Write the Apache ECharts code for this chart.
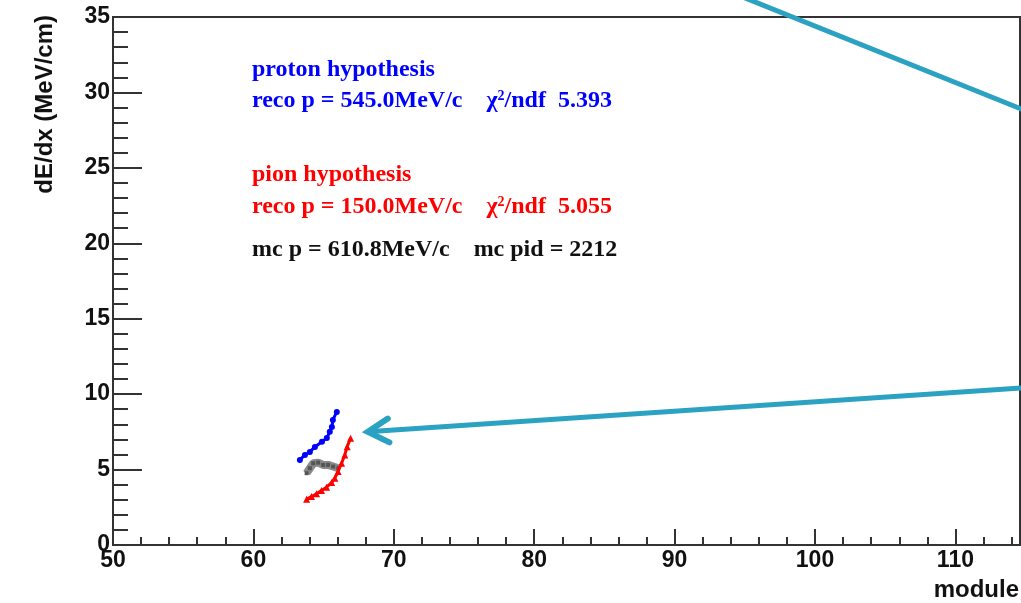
<!DOCTYPE html>
<html>
<head>
<meta charset="utf-8">
<script src="https://cdn.jsdelivr.net/npm/echarts@6/dist/echarts.min.js"></script>
<style>
  html, body { margin: 0; padding: 0; background: #fff; }
  #chart { width: 1021px; height: 603px; }
</style>
</head>
<body>
<div id="chart"></div>
<script>
// proton hypothesis (blue)
var protonX = [63.31, 63.67, 64.02, 64.38, 64.88, 65.23, 65.44, 65.59, 65.66, 65.94];
var protonY = [5.64, 5.97, 6.17, 6.50, 6.84, 7.10, 7.50, 7.83, 8.29, 8.82];
// pion hypothesis (red)
var pionX = [63.79, 64.14, 64.50, 64.85, 65.21, 65.57, 65.80, 66.03, 66.28, 66.51, 66.68, 66.92];
var pionY = [3.04, 3.21, 3.39, 3.61, 3.83, 4.14, 4.43, 4.87, 5.42, 5.97, 6.52, 7.08];
// measured (grey)
var measX = [63.79, 64.02, 64.26, 64.61, 64.97, 65.32, 65.68, 66.04];
var measY = [4.76, 5.09, 5.42, 5.46, 5.31, 5.31, 5.20, 5.09];

var xTicks = [50, 60, 70, 80, 90, 100, 110];
var yTicks = [0, 5, 10, 15, 20, 25, 30, 35];

// annotation arrows, in data units [module, dE/dx]
var arrowA = [[93.9, 36.68], [115.5, 28.6]];
var arrowB = [[115.5, 10.46], [68.15, 7.5]];

function pairs(xs, ys) {
	var out = [];
	for (var i = 0; i < xs.length; i++) out.push([xs[i], ys[i]]);
	return out;
}

var chart = echarts.init(document.getElementById('chart'));
var labelFont = {
	fontFamily: 'Liberation Sans',
	fontWeight: 'bold',
	fontSize: 23,
	color: '#111'
};
var serifBold = 'Liberation Serif';

var option = {
	animation: false,
	grid: {
		left: 113, top: 17, right: 1, bottom: 58,
		show: true,
		borderColor: '#333',
		borderWidth: 2
	},
	xAxis: {
		type: 'value',
		min: 50,
		max: 114.6,
		interval: 10,
		axisLine: { lineStyle: { color: '#333', width: 2 } },
		axisTick: { inside: true, length: 16, lineStyle: { color: '#333', width: 2 } },
		minorTick: { show: true, splitNumber: 5, length: 8, lineStyle: { color: '#333', width: 2 } },
		splitLine: { show: false },
		axisLabel: Object.assign({
			margin: 4,
			showMaxLabel: false,
			formatter: function (v) { return xTicks.indexOf(v) >= 0 ? String(v) : ''; }
		}, labelFont)
	},
	yAxis: {
		type: 'value',
		min: 0,
		max: 35,
		interval: 5,
		axisLine: { lineStyle: { color: '#333', width: 2 } },
		axisTick: { inside: true, length: 29, lineStyle: { color: '#333', width: 2 } },
		minorTick: { show: true, splitNumber: 5, length: 15, lineStyle: { color: '#333', width: 2 } },
		splitLine: { show: false },
		axisLabel: Object.assign({
			margin: 3,
			formatter: function (v) { return yTicks.indexOf(v) >= 0 ? String(v) : ''; }
		}, labelFont)
	},
	series: [
		{
			name: 'measured',
			type: 'line',
			data: pairs(measX, measY),
			symbol: 'rect',
			symbolSize: 4,
			lineStyle: { color: '#8a8a8a', width: 8 },
			itemStyle: { color: '#555' },
			z: 3
		},
		{
			name: 'proton',
			type: 'line',
			data: pairs(protonX, protonY),
			symbol: 'circle',
			symbolSize: 6,
			lineStyle: { color: '#0000ff', width: 3 },
			itemStyle: { color: '#0000ff' },
			z: 4
		},
		{
			name: 'pion',
			type: 'line',
			data: pairs(pionX, pionY),
			symbol: 'triangle',
			symbolSize: 7,
			lineStyle: { color: '#ff0000', width: 3 },
			itemStyle: { color: '#ff0000' },
			z: 4
		}
	]
};
chart.setOption(option);

// axis titles and the text box
var graphics = [
	{
		type: 'text', x: 45, y: 15, rotation: Math.PI / 2,
		style: {
			text: 'dE/dx (MeV/cm)', align: 'right', verticalAlign: 'middle',
			font: 'bold 24px "Liberation Sans"', fill: '#111'
		}
	},
	{
		type: 'text', x: 1019, y: 590,
		style: {
			text: 'module', align: 'right', verticalAlign: 'middle',
			font: 'bold 24px "Liberation Sans"', fill: '#111'
		}
	}
];

function infoLine(y, color, text) {
	return {
		type: 'text', x: 252, y: y,
		style: {
			text: text, verticalAlign: 'middle',
			fontFamily: serifBold, fontWeight: 'bold', fontSize: 24, fill: color,
			rich: {
				sup: { fontFamily: serifBold, fontWeight: 'bold', fontSize: 14, fill: color, verticalAlign: 'top', padding: [0, 0, 9, 0] }
			}
		}
	};
}
graphics.push(infoLine(70, '#0000ff', 'proton hypothesis'));
graphics.push(infoLine(101, '#0000ff', 'reco p = 545.0MeV/c    \u03c7{sup|2}/ndf  5.393'));
graphics.push(infoLine(175, '#ff0000', 'pion hypothesis'));
graphics.push(infoLine(207, '#ff0000', 'reco p = 150.0MeV/c    \u03c7{sup|2}/ndf  5.055'));
graphics.push(infoLine(250, '#111111', 'mc p = 610.8MeV/c    mc pid = 2212'));

// arrows placed through the axis scales
var teal = '#2ba2c2';
function px(p) { return chart.convertToPixel({ gridIndex: 0 }, p); }
var a0 = px(arrowA[0]), a1 = px(arrowA[1]);
graphics.push({
	type: 'line', shape: { x1: a0[0], y1: a0[1], x2: a1[0], y2: a1[1] },
	style: { stroke: teal, lineWidth: 5, lineCap: 'round' }, z: 10
});
var b0 = px(arrowB[0]), b1 = px(arrowB[1]);
graphics.push({
	type: 'line', shape: { x1: b0[0], y1: b0[1], x2: b1[0], y2: b1[1] },
	style: { stroke: teal, lineWidth: 5, lineCap: 'round' }, z: 10
});
var ang = Math.atan2(b0[1] - b1[1], b0[0] - b1[0]);
var armLen = 24, spread = 0.52;
graphics.push({
	type: 'polyline',
	shape: { points: [
		[b1[0] + armLen * Math.cos(ang - spread), b1[1] + armLen * Math.sin(ang - spread)],
		[b1[0], b1[1]],
		[b1[0] + armLen * Math.cos(ang + spread), b1[1] + armLen * Math.sin(ang + spread)]
	] },
	style: { stroke: teal, lineWidth: 6, lineCap: 'round', lineJoin: 'miter', fill: null }, z: 10
});

chart.setOption({ graphic: graphics });
</script>
</body>
</html>
